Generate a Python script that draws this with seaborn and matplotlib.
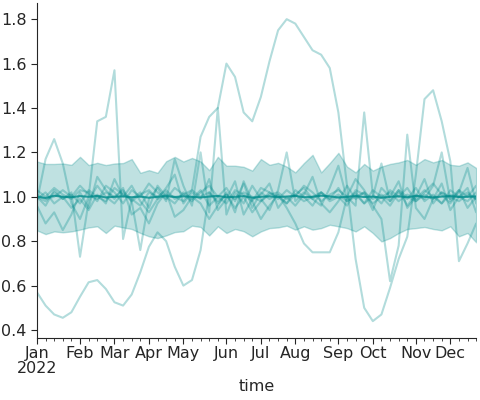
import pandas as pd
import matplotlib
matplotlib.use('Agg')
import matplotlib.pyplot as plt
import seaborn as sns

# weekly data, 2022
start_date = '2022-01-03'
n_weeks = 52

# band (upper / lower) and centre line
band_upper = [1.159, 1.148, 1.148, 1.150, 1.144, 1.180, 1.143, 1.153, 1.143, 1.150,
              1.152, 1.170, 1.108, 1.120, 1.108, 1.160, 1.180, 1.159, 1.175, 1.159,
              1.120, 1.180, 1.140, 1.140, 1.135, 1.118, 1.170, 1.144, 1.153, 1.136,
              1.110, 1.152, 1.189, 1.110, 1.152, 1.198, 1.136, 1.110, 1.148, 1.118,
              1.136, 1.148, 1.155, 1.166, 1.144, 1.170, 1.155, 1.166, 1.144, 1.140,
              1.155, 1.130]
band_lower = [0.849, 0.832, 0.844, 0.840, 0.844, 0.852, 0.862, 0.867, 0.837, 0.870,
              0.862, 0.855, 0.837, 0.822, 0.814, 0.826, 0.841, 0.845, 0.870, 0.864,
              0.826, 0.867, 0.837, 0.855, 0.845, 0.822, 0.844, 0.859, 0.862, 0.870,
              0.852, 0.867, 0.852, 0.859, 0.874, 0.867, 0.859, 0.844, 0.867, 0.837,
              0.799, 0.814, 0.837, 0.855, 0.859, 0.864, 0.855, 0.849, 0.867, 0.822,
              0.837, 0.795]
centre = [1.000, 0.995, 1.005, 1.000, 0.998, 1.003, 1.000, 1.004, 0.997, 1.000,
          1.002, 0.998, 1.001, 0.996, 1.000, 1.003, 0.999, 1.002, 1.000, 0.997,
          1.001, 1.004, 0.998, 1.000, 1.003, 0.996, 1.000, 1.002, 0.999, 1.001,
          1.004, 0.998, 1.000, 1.005, 1.002, 0.997, 1.000, 1.003, 0.999, 1.001,
          0.996, 1.000, 1.002, 0.998, 1.004, 1.000, 0.997, 1.001, 1.003, 0.999,
          1.000, 1.002]

# individual sample series
s_high = [1.00, 0.98, 1.02, 0.99, 1.01, 0.97, 1.03, 1.00, 0.98, 1.04,
          1.01, 0.99, 0.96, 1.02, 1.00, 1.03, 0.99, 1.01, 1.03, 1.27,
          1.36, 1.40, 1.60, 1.54, 1.38, 1.34, 1.45, 1.61, 1.75, 1.80,
          1.78, 1.72, 1.66, 1.64, 1.58, 1.38, 1.05, 0.72, 0.50, 0.44,
          0.47, 0.59, 0.72, 0.82, 1.10, 1.44, 1.48, 1.34, 1.16, 0.71,
          0.79, 0.88]
s_low = [0.57, 0.51, 0.47, 0.455, 0.48, 0.55, 0.615, 0.625, 0.585, 0.525,
         0.51, 0.56, 0.66, 0.775, 0.84, 0.80, 0.685, 0.60, 0.625, 0.76,
         1.02, 0.97, 1.01, 0.95, 1.00, 0.93, 0.98, 1.02, 1.00, 0.97,
         1.01, 1.04, 0.99, 1.02, 0.98, 1.00, 0.96, 1.03, 1.01, 0.97,
         1.00, 1.02, 0.98, 1.01, 0.99, 1.03, 1.00, 0.97, 1.01, 1.00,
         1.02, 0.99]
s_b = [0.98, 1.17, 1.26, 1.15, 0.97, 0.90, 1.00, 1.34, 1.36, 1.57,
       0.81, 0.99, 1.02, 0.95, 1.05, 1.00, 0.97, 1.02, 0.99, 1.03,
       0.96, 1.00, 1.04, 0.98, 1.06, 0.95, 1.02, 0.99, 1.01, 0.97,
       1.03, 1.00, 0.96, 1.02, 0.99, 1.04, 0.98, 1.01, 0.97, 1.03,
       1.00, 0.96, 1.02, 0.99, 1.04, 0.98, 1.01, 0.97, 1.03, 1.00,
       0.98, 1.02]
s_c = [1.00, 0.96, 1.03, 0.99, 1.02, 0.73, 0.98, 1.05, 1.00, 0.97,
       1.02, 0.98, 0.76, 0.99, 1.04, 0.98, 1.17, 1.05, 0.96, 1.20,
       0.93, 1.40, 0.92, 1.02, 0.97, 1.05, 0.99, 0.94, 1.03, 1.20,
       0.98, 1.02, 0.99, 0.96, 1.04, 1.14, 0.99, 1.02, 0.97, 1.00,
       1.15, 0.98, 1.03, 0.96, 1.01, 0.99, 1.05, 1.20, 0.98, 1.02,
       1.13, 0.97]
s_d = [0.96, 0.88, 0.93, 0.85, 0.92, 1.02, 0.95, 1.09, 1.03, 0.99,
       1.04, 0.92, 0.95, 0.88, 0.97, 1.02, 0.91, 0.94, 1.00, 0.97,
       0.90, 0.96, 1.02, 0.93, 1.07, 0.98, 0.90, 0.96, 1.01, 0.95,
       0.88, 0.79, 0.75, 0.75, 0.75, 0.84, 1.00, 1.08, 1.03, 0.96,
       0.90, 0.62, 0.78, 1.28, 0.95, 0.90, 0.99, 1.06, 0.94, 1.00,
       1.04, 0.93]
s_e = [1.03, 1.00, 1.04, 1.01, 0.99, 1.03, 1.02, 0.98, 1.05, 1.02,
       0.97, 1.03, 1.00, 1.06, 1.02, 0.99, 1.04, 1.01, 0.98, 1.02,
       1.05, 1.00, 0.97, 1.03, 1.01, 0.98, 1.04, 1.02, 0.99, 1.03,
       1.00, 1.05, 1.02, 0.98, 1.01, 1.03, 1.00, 0.96, 1.38, 1.01,
       0.97, 1.03, 1.00, 1.04, 0.98, 1.02, 1.06, 1.01, 0.97, 1.03,
       1.00, 1.05]
s_f = [0.99, 1.02, 0.97, 1.00, 0.95, 0.99, 0.94, 1.01, 0.97, 1.08,
       1.00, 1.05, 0.98, 0.93, 0.99, 1.04, 1.10, 0.97, 1.02, 0.99,
       1.08, 0.94, 0.99, 1.07, 0.92, 0.99, 1.01, 1.06, 0.95, 1.00,
       0.96, 1.01, 1.09, 0.97, 0.93, 0.98, 1.05, 0.99, 1.02, 0.94,
       1.04, 1.00, 1.07, 0.95, 1.00, 1.08, 0.97, 1.02, 0.99, 1.03,
       0.95, 1.00]
s_g = [1.01, 0.99, 1.00, 1.03, 1.00, 1.05, 1.01, 0.99, 1.02, 1.00,
       1.03, 0.98, 1.01, 1.03, 0.99, 1.01, 1.00, 0.98, 1.03, 1.00,
       1.02, 0.98, 1.01, 0.99, 1.02, 1.00, 0.98, 1.01, 1.02, 0.99,
       1.01, 0.98, 1.00, 1.02, 0.99, 1.01, 0.98, 1.00, 1.02, 0.99,
       1.01, 0.98, 1.03, 1.00, 0.98, 1.01, 0.99, 1.02, 1.00, 0.98,
       1.01, 0.99]
samples = {'a': s_high, 'b': s_low, 'c': s_b, 'd': s_c, 'e': s_d,
           'f': s_e, 'g': s_f, 'h': s_g}

month_names = ['Jan\n2022', 'Feb', 'Mar', 'Apr', 'May', 'Jun',
               'Jul', 'Aug', 'Sep', 'Oct', 'Nov', 'Dec']

time = pd.date_range(start_date, periods=n_weeks, freq='7D')
wide = pd.DataFrame(samples, index=time)
wide.index.name = 'time'
long = wide.reset_index().melt(id_vars='time', var_name='series', value_name='value')
summary = pd.DataFrame({'time': time, 'centre': centre,
                        'lower': band_lower, 'upper': band_upper})

sns.set_style('ticks')
color = 'darkcyan'

fig, ax = plt.subplots(figsize=(4.8, 4.0), dpi=100)
ax.fill_between(summary['time'], summary['lower'], summary['upper'],
                color=color, alpha=0.25, linewidth=1)
sns.lineplot(data=long, x='time', y='value', units='series', estimator=None,
             color=color, alpha=0.3, linewidth=1.5, ax=ax, legend=False)
sns.lineplot(data=summary, x='time', y='centre', color=color, alpha=0.8,
             linewidth=1.5, ax=ax)

# month ticks on the first week of each month, weekly minor ticks
month_change = [0] + [i for i in range(1, n_weeks) if time[i].month != time[i - 1].month]
ax.set_xticks(time[month_change])
ax.set_xticklabels(month_names, linespacing=1.0)
ax.set_xticks(time, minor=True)
ax.tick_params(axis='x', which='major', length=4, labelsize=11.5, pad=2)
ax.tick_params(axis='x', which='minor', length=2)
ax.tick_params(axis='y', length=4, labelsize=11.5)
ax.set_xlim(time[0], time[-1])
ax.set_ylim(0.364, 1.872)
ax.set_xlabel('time', fontsize=11.5, labelpad=2)
ax.set_ylabel('')
sns.despine(ax=ax)

fig.subplots_adjust(left=0.077, right=0.992, bottom=0.155, top=0.992)
fig.savefig('out.png', dpi=100)
